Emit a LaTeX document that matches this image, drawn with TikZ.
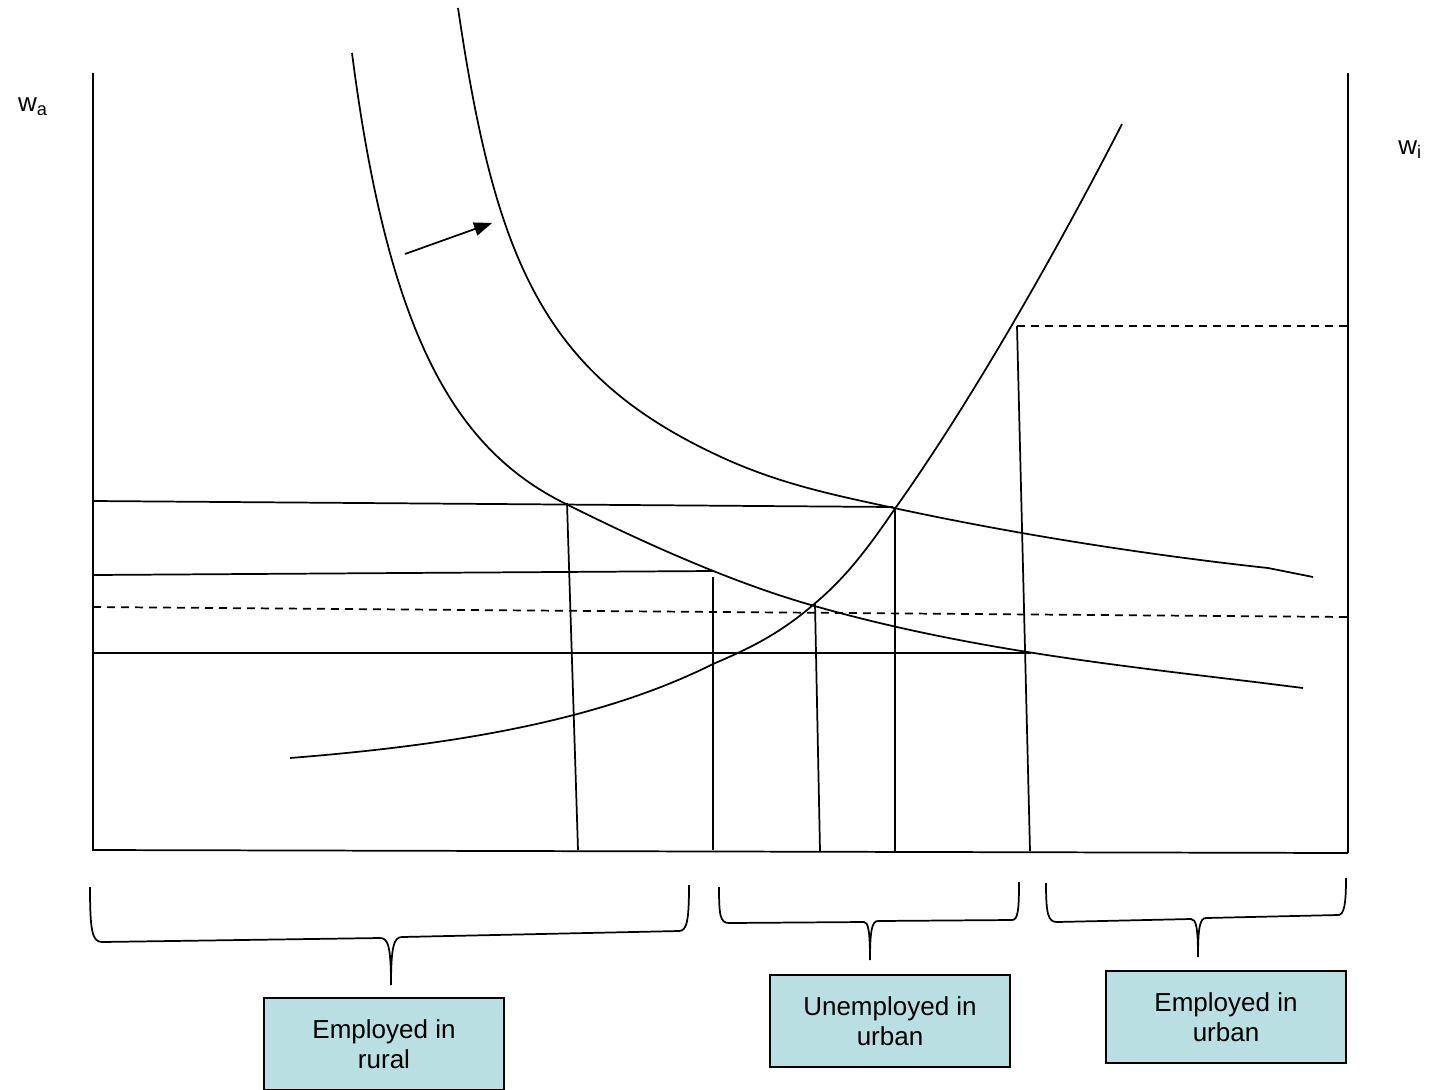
\documentclass[tikz,border=0pt]{standalone}
\usepackage{fontspec}
\setmainfont{Liberation Sans}

\tikzset{every picture/.style={line width=1.3pt}}
\tikzset{sectorbox/.style={draw, line width=1.1, fill={rgb, 255:red, 185; green, 223; blue, 226 }, minimum width=180pt, minimum height=69pt, align=center, inner sep=0.75pt, font=\fontsize{19.5}{22.5}\selectfont}}
\tikzset{axislabel/.style={inner sep=0.75pt, font=\fontsize{19.5}{22.5}\selectfont}}
\tikzset{wagedash/.style={dash pattern=on 6pt off 4.5pt}}

\begin{document}
\begin{tikzpicture}[x=0.75pt,y=0.75pt,yscale=-1,xscale=1]
\useasboundingbox (0,0) rectangle (1434,1089); %set diagram to the size of the page

%Straight Lines [axes]
\draw    (93,73) -- (93,850) -- (1348,853) ;
\draw    (1348,73) -- (1348,853) ;

%Curve Lines [lower labour demand]
\draw    (352,53) .. controls (388,333) and (454,448) .. (564,503) .. controls (644,543) and (731,582) .. (811,605) .. controls (961,648) and (1105,664) .. (1255,682) -- (1303,688) ;
%Curve Lines [upper labour demand]
\draw    (458,8) .. controls (495,258) and (542,374) .. (719,456) .. controls (779,484) and (834,495) .. (894,508) .. controls (1014,534) and (1148,555) .. (1268,568) -- (1313,577) ;
%Curve Lines [rising curve]
\draw    (290,758) .. controls (440,746) and (593,724) .. (713,664) .. controls (748,649) and (778,635) .. (813,605) .. controls (843,580) and (864,554) .. (894,510) .. controls (974,398) and (1062,241) .. (1122,124) ;

%Straight Lines [shift arrow]
\draw    (405,254) -- (486,225) ;
\draw [shift={(492,223)}, rotate = 160.4] [fill={rgb, 255:red, 0; green, 0; blue, 0 }  ][line width=0.08]  [draw opacity=0] (18,-7) -- (0,0) -- (18,7) -- cycle    ;

%Straight Lines [horizontal wage lines]
\draw    (93,501) -- (893,507) ;
\draw    (93,575) -- (713,571) ;
\draw  [wagedash]  (93,607) -- (1348,617) ;
\draw    (93,653) -- (1031,653) ;
\draw  [wagedash]  (1017,326) -- (1348,326) ;

%Straight Lines [vertical drops]
\draw    (567,503) -- (578,850) ;
\draw    (713,577) -- (713,850) ;
\draw    (815,604) -- (820,851) ;
\draw    (895,508) -- (895,851) ;
\draw    (1017,326) -- (1030,851) ;

%Curve Lines [brace rural]
\draw    (90,887) .. controls (90,930) and (92,942) .. (102,942) -- (380,938) .. controls (388,938) and (391,946) .. (391,985) .. controls (391,946) and (394,937) .. (402,937) -- (679,931) .. controls (687,931) and (689,920) .. (689,885) ;
%Curve Lines [brace unemployed]
\draw    (719,887) .. controls (719,915) and (720,923) .. (729,923) -- (864,922) .. controls (868,922) and (870,930) .. (870,960) .. controls (870,930) and (872,921) .. (878,921) -- (1012,920) .. controls (1018,920) and (1019,910) .. (1019,882) ;
%Curve Lines [brace urban]
\draw    (1046,883) .. controls (1046,914) and (1048,922) .. (1057,922) -- (1191,919) .. controls (1196,919) and (1198,927) .. (1198,957) .. controls (1198,927) and (1200,918) .. (1206,918) -- (1338,915) .. controls (1344,915) and (1346,905) .. (1346,878) ;

% Text Node
\node [sectorbox] (rural) at (384,1044) {Employed in\\rural};
% Text Node
\node [sectorbox] (unemp) at (890,1021) {Unemployed in\\urban};
% Text Node
\node [sectorbox] (urban) at (1226,1017) {Employed in\\urban};
% Text Node
\node [axislabel] (wa) at (33,107) {w\textsubscript{a}};
% Text Node
\node [axislabel] (wi) at (1410,150) {w\textsubscript{i}};

\end{tikzpicture}
\end{document}
